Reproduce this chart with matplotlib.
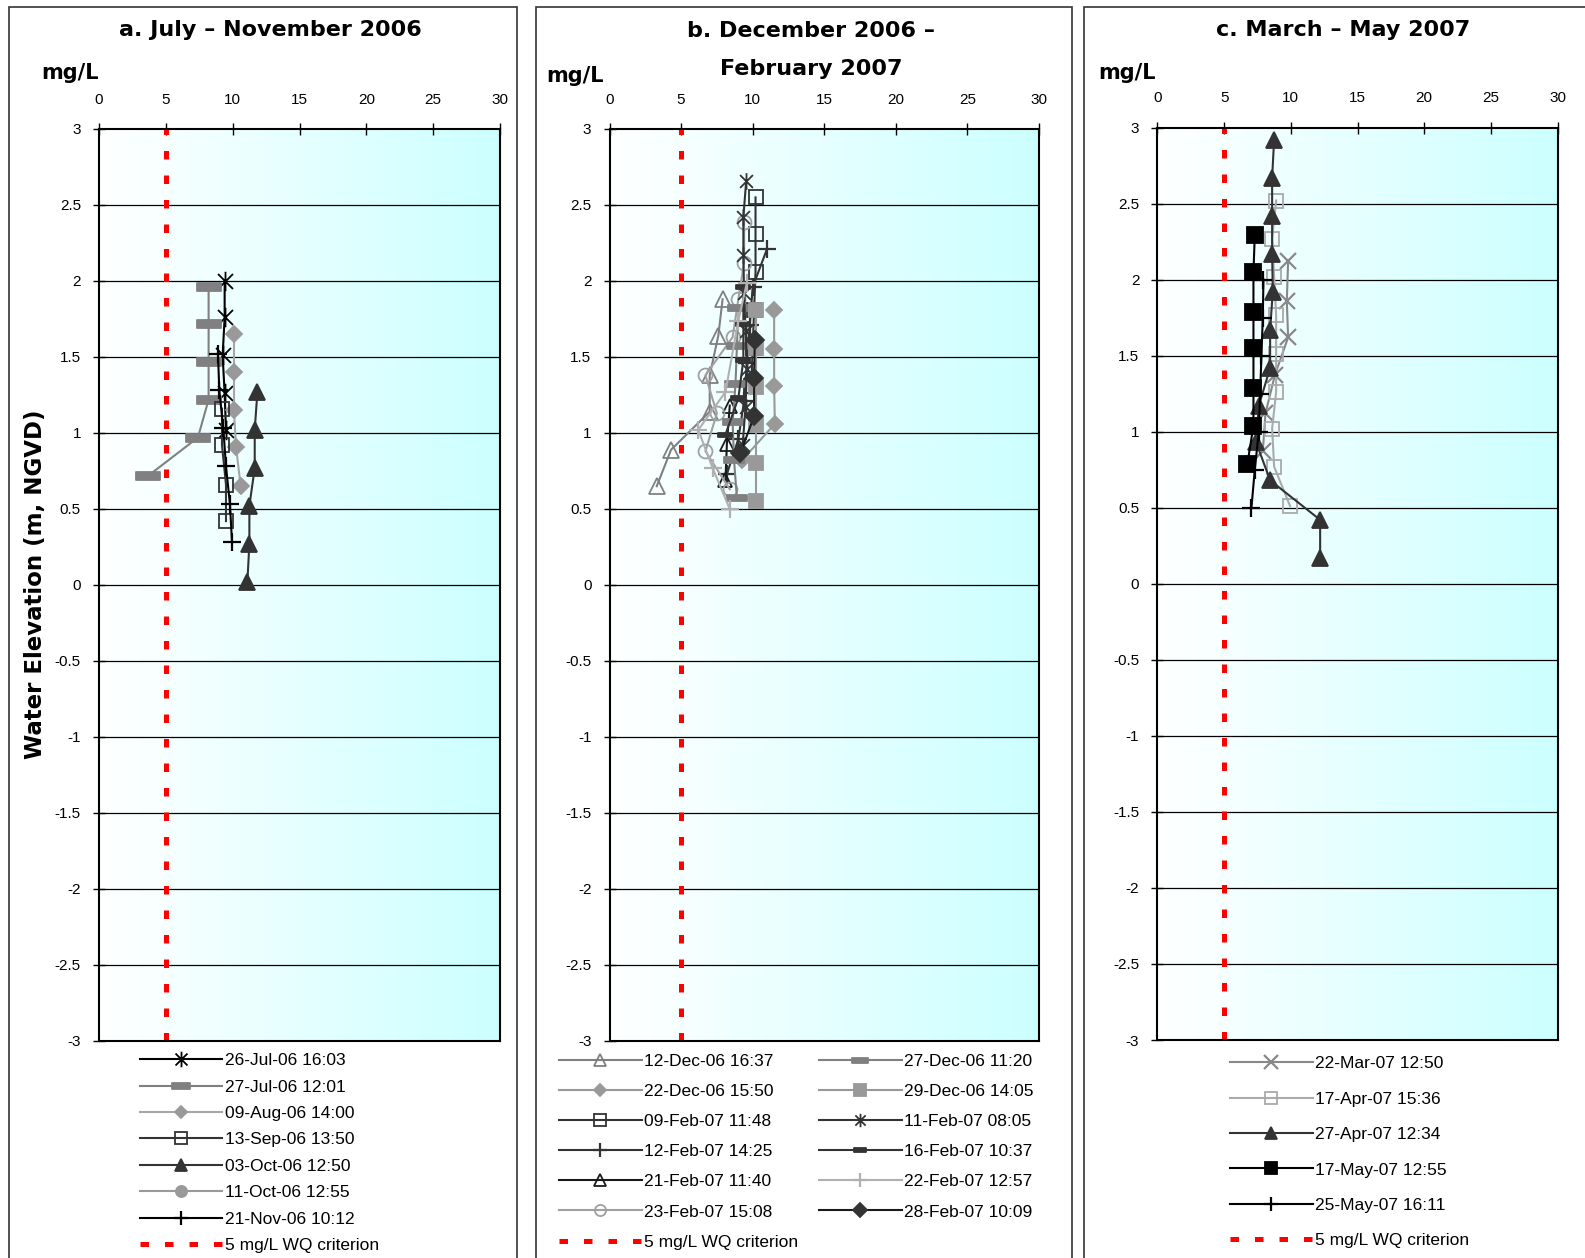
import numpy as np
import matplotlib
matplotlib.use("Agg")
import matplotlib.pyplot as plt
from matplotlib.path import Path
from matplotlib.colors import LinearSegmentedColormap
from matplotlib.patches import Rectangle
from matplotlib.ticker import FuncFormatter

plt.rcParams['font.family'] = ['Liberation Sans', 'DejaVu Sans']
plt.rcParams['axes.unicode_minus'] = False

W, H = 1585, 1258

# ---- panel a: July - November 2006 (DO mg/L, elevation m) ----
jul26_do = [9.4, 9.4, 9.25, 9.4, 9.5]
jul26_z = [2.00, 1.76, 1.51, 1.26, 1.02]
jul27_do = [8.2, 8.2, 8.2, 8.2, 7.4, 3.7]
jul27_z = [1.96, 1.72, 1.47, 1.22, 0.97, 0.72]
aug09_do = [10.1, 10.1, 10.1, 10.25, 10.6]
aug09_z = [1.65, 1.40, 1.15, 0.91, 0.65]
sep13_do = [9.2, 9.2, 9.5, 9.5]
sep13_z = [1.16, 0.92, 0.66, 0.42]
oct03_do = [11.85, 11.65, 11.65, 11.25, 11.25, 11.1]
oct03_z = [1.27, 1.02, 0.77, 0.52, 0.27, 0.02]
oct11_do = []
oct11_z = []
nov21_do = [8.9, 9.0, 9.3, 9.5, 9.8, 9.95]
nov21_z = [1.52, 1.28, 1.03, 0.78, 0.53, 0.28]

# ---- panel b: December 2006 - February 2007 ----
dec12_do = [7.9, 7.6, 7.0, 7.0, 4.3, 3.3]
dec12_z = [1.88, 1.64, 1.38, 1.14, 0.89, 0.65]
dec27_do = [9.0, 8.9, 8.8, 8.6, 8.7, 8.9]
dec27_z = [1.82, 1.57, 1.32, 1.07, 0.82, 0.57]
dec22_do = [11.5, 11.5, 11.5, 11.55, 9.25]
dec22_z = [1.81, 1.55, 1.31, 1.06, 0.82]
dec29_do = [10.2, 10.2, 10.2, 10.2, 10.2, 10.2]
dec29_z = [1.81, 1.56, 1.30, 1.05, 0.80, 0.55]
feb09_do = [10.2, 10.2, 10.2, 10.1, 10.0, 9.9]
feb09_z = [2.55, 2.31, 2.06, 1.81, 1.56, 1.31]
feb11_do = [9.55, 9.35, 9.35, 9.4, 9.5, 9.6, 9.5, 9.3]
feb11_z = [2.66, 2.42, 2.17, 1.92, 1.67, 1.42, 1.17, 0.92]
feb12_do = [11.0, 10.0, 9.8, 9.6, 9.4, 9.0, 8.2]
feb12_z = [2.21, 1.96, 1.71, 1.46, 1.21, 0.96, 0.73]
feb16_do = [9.35, 9.35, 9.35, 9.0, 8.1]
feb16_z = [1.96, 1.72, 1.48, 1.23, 0.99]
feb21_do = [8.4, 8.2, 8.1]
feb21_z = [1.18, 0.93, 0.69]
feb22_do = [9.6, 9.0, 8.1, 6.2, 7.2, 8.4]
feb22_z = [1.99, 1.74, 1.27, 1.02, 0.77, 0.50]
feb23_do = [9.4, 9.4, 9.0, 8.6, 6.7, 7.5, 6.7, 8.4]
feb23_z = [2.39, 2.12, 1.88, 1.63, 1.38, 1.13, 0.88, 0.63]
feb28_do = [10.15, 10.1, 10.1, 9.15]
feb28_z = [1.61, 1.36, 1.11, 0.87]

# ---- panel c: March - May 2007 ----
mar22_do = [9.8, 9.7, 9.8, 8.8, 8.1, 7.9]
mar22_z = [2.12, 1.86, 1.62, 1.37, 1.12, 0.87]
apr17_do = [8.9, 8.6, 8.75, 8.9, 8.9, 8.9, 8.6, 8.75, 9.95]
apr17_z = [2.52, 2.27, 2.02, 1.77, 1.51, 1.26, 1.02, 0.77, 0.51]
apr27_do = [8.75, 8.6, 8.6, 8.6, 8.65, 8.45, 8.45, 7.6, 7.4, 8.45, 12.2, 12.2]
apr27_z = [2.92, 2.67, 2.42, 2.17, 1.92, 1.67, 1.42, 1.17, 0.93, 0.68, 0.42, 0.17]
may17_do = [7.3, 7.2, 7.2, 7.2, 7.2, 7.2, 6.75]
may17_z = [2.29, 2.05, 1.79, 1.55, 1.29, 1.04, 0.79]
may25_do = [7.95, 7.9, 7.8, 7.7, 7.6, 7.3, 7.05]
may25_z = [2.00, 1.75, 1.50, 1.25, 1.00, 0.75, 0.50]

STAR = Path([(-1, -1), (1, 1), (-1, 1), (1, -1), (0, -1.3), (0, 1.3)],
            [Path.MOVETO, Path.LINETO] * 3)
DASH = Path([(-1, -0.3), (1, -0.3), (1, 0.3), (-1, 0.3), (-1, -0.3)],
            [Path.MOVETO, Path.LINETO, Path.LINETO, Path.LINETO, Path.CLOSEPOLY])


def sty(color, marker, ms, mfc=None, mec=None, mew=1.3, lw=1.5):
    return dict(color=color, marker=marker, ms=ms, mfc=color if mfc is None else mfc,
                mec=color if mec is None else mec, mew=mew, lw=lw)


panel_a = [
    ('26-Jul-06 16:03', jul26_do, jul26_z, sty('black', STAR, 14, 'none')),
    ('27-Jul-06 12:01', jul27_do, jul27_z, sty('#808080', DASH, 17)),
    ('09-Aug-06 14:00', aug09_do, aug09_z, sty('#a6a6a6', 'D', 8, '#999999', '#999999')),
    ('13-Sep-06 13:50', sep13_do, sep13_z, sty('#333333', 's', 10, 'none')),
    ('03-Oct-06 12:50', oct03_do, oct03_z, sty('#333333', '^', 11)),
    ('11-Oct-06 12:55', oct11_do, oct11_z, sty('#999999', 'o', 10)),
    ('21-Nov-06 10:12', nov21_do, nov21_z, sty('black', '+', 13, mew=1.6)),
]
panel_b_col1 = [
    ('12-Dec-06 16:37', dec12_do, dec12_z, sty('#808080', '^', 11, 'none')),
    ('22-Dec-06 15:50', dec22_do, dec22_z, sty('#999999', 'D', 8)),
    ('09-Feb-07 11:48', feb09_do, feb09_z, sty('#333333', 's', 10, 'none')),
    ('12-Feb-07 14:25', feb12_do, feb12_z, sty('#333333', '+', 13, mew=1.6)),
    ('21-Feb-07 11:40', feb21_do, feb21_z, sty('#1a1a1a', '^', 10, 'none')),
    ('23-Feb-07 15:08', feb23_do, feb23_z, sty('#a0a0a0', 'o', 10, 'none')),
]
panel_b_col2 = [
    ('27-Dec-06 11:20', dec27_do, dec27_z, sty('#808080', DASH, 15)),
    ('29-Dec-06 14:05', dec29_do, dec29_z, sty('#999999', 's', 10)),
    ('11-Feb-07 08:05', feb11_do, feb11_z, sty('#333333', STAR, 12, 'none')),
    ('16-Feb-07 10:37', feb16_do, feb16_z, sty('#333333', DASH, 10)),
    ('22-Feb-07 12:57', feb22_do, feb22_z, sty('#b0b0b0', '+', 13, mew=1.6)),
    ('28-Feb-07 10:09', feb28_do, feb28_z, sty('#1a1a1a', 'D', 9, '#333333', '#333333')),
]
panel_c = [
    ('22-Mar-07 12:50', mar22_do, mar22_z, sty('#888888', 'x', 12, mew=1.6)),
    ('17-Apr-07 15:36', apr17_do, apr17_z, sty('#aaaaaa', 's', 10, 'none')),
    ('27-Apr-07 12:34', apr27_do, apr27_z, sty('#333333', '^', 11)),
    ('17-May-07 12:55', may17_do, may17_z, sty('black', 's', 11)),
    ('25-May-07 16:11', may25_do, may25_z, sty('black', '+', 13, mew=1.6)),
]

bg = LinearSegmentedColormap.from_list('bg', ['#ffffff', '#ccffff'])
fig = plt.figure(figsize=(W / 100, H / 100), dpi=100)


def make_axes(left, right, top, bottom):
    return fig.add_axes([left / W, 1 - bottom / H, (right - left) / W, (bottom - top) / H])


def draw_panel(ax, series):
    ax.imshow(np.linspace(0, 1, 256)[None, :], extent=[0, 30, -3, 3], aspect='auto',
              cmap=bg, zorder=0, interpolation='bilinear')
    ax.set_xlim(0, 30)
    ax.set_ylim(-3, 3)
    for y in np.arange(-2.5, 3.0, 0.5):
        ax.axhline(y, color='black', lw=0.9, zorder=1)
    wq = ax.axvline(5, color='#ff0000', lw=3.6, ls=(0, (1.7, 3.2)), zorder=2,
                    label='5 mg/L WQ criterion')
    lines = []
    for label, x, z, st in series:
        ln, = ax.plot(x, z, label=label, zorder=3, **st)
        lines.append(ln)
    ax.set_xticks(range(0, 31, 5))
    ax.set_yticks(np.arange(-3, 3.01, 0.5))
    ax.yaxis.set_major_formatter(FuncFormatter(lambda v, p: f'{v:g}'))
    ax.xaxis.tick_top()
    ax.tick_params(axis='x', direction='inout', length=8, width=1, pad=12, labelsize=11)
    ax.tick_params(axis='y', direction='inout', length=8, width=1, pad=9, labelsize=11)
    for s in ax.spines.values():
        s.set_linewidth(1.5)
    return lines, wq


axa = make_axes(99, 500, 129, 1041)
axb = make_axes(609.5, 1039, 129, 1041)
axc = make_axes(1157.4, 1557.6, 127.5, 1040)

la, wqa = draw_panel(axa, panel_a)
lb, wqb = draw_panel(axb, panel_b_col1 + panel_b_col2)
lc, wqc = draw_panel(axc, panel_c)

# panel frames
for x0, x1 in [(9, 517), (536, 1072), (1084, 1600)]:
    fig.add_artist(Rectangle((x0 / W, -0.02), (x1 - x0) / W, 1.02 - 7 / H,
                             transform=fig.transFigure, fill=False, ec='#333333', lw=1.2))

tfont = dict(family='DejaVu Sans', weight='bold', fontsize=16, ha='center', va='center')
fig.text(270 / W, 1 - 30 / H, 'a. July \u2013 November 2006', **tfont)
fig.text(811 / W, 1 - 31 / H, 'b. December 2006 \u2013', **tfont)
fig.text(811 / W, 1 - 69 / H, 'February 2007', **tfont)
fig.text(1343 / W, 1 - 30 / H, 'c. March \u2013 May 2007', **tfont)

mfont = dict(family='DejaVu Sans', weight='bold', fontsize=15, ha='center', va='center')
fig.text(70 / W, 1 - 73 / H, 'mg/L', **mfont)
fig.text(575 / W, 1 - 76 / H, 'mg/L', **mfont)
fig.text(1127 / W, 1 - 73 / H, 'mg/L', **mfont)

fig.text(36 / W, 1 - 584 / H, 'Water Elevation (m, NGVD)', rotation=90,
         family='DejaVu Sans', weight='bold', fontsize=16.5, ha='center', va='center')

leg_kw = dict(loc='upper left', frameon=False, fontsize=12.5, handlelength=4.78,
              handletextpad=0.12, borderpad=0, borderaxespad=0, markerscale=0.8)
fig.legend(handles=la + [wqa], bbox_to_anchor=(139.5 / W, 1 - 1053 / H),
           labelspacing=0.65, **leg_kw)
fig.legend(handles=lb[:6] + [wqb], bbox_to_anchor=(559 / W, 1 - 1054 / H),
           labelspacing=0.86, **leg_kw)
fig.legend(handles=lb[6:], bbox_to_anchor=(819 / W, 1 - 1054 / H),
           labelspacing=0.86, **leg_kw)
fig.legend(handles=lc + [wqc], bbox_to_anchor=(1230 / W, 1 - 1056 / H),
           labelspacing=1.17, **leg_kw)

fig.savefig('out.png', dpi=100)
